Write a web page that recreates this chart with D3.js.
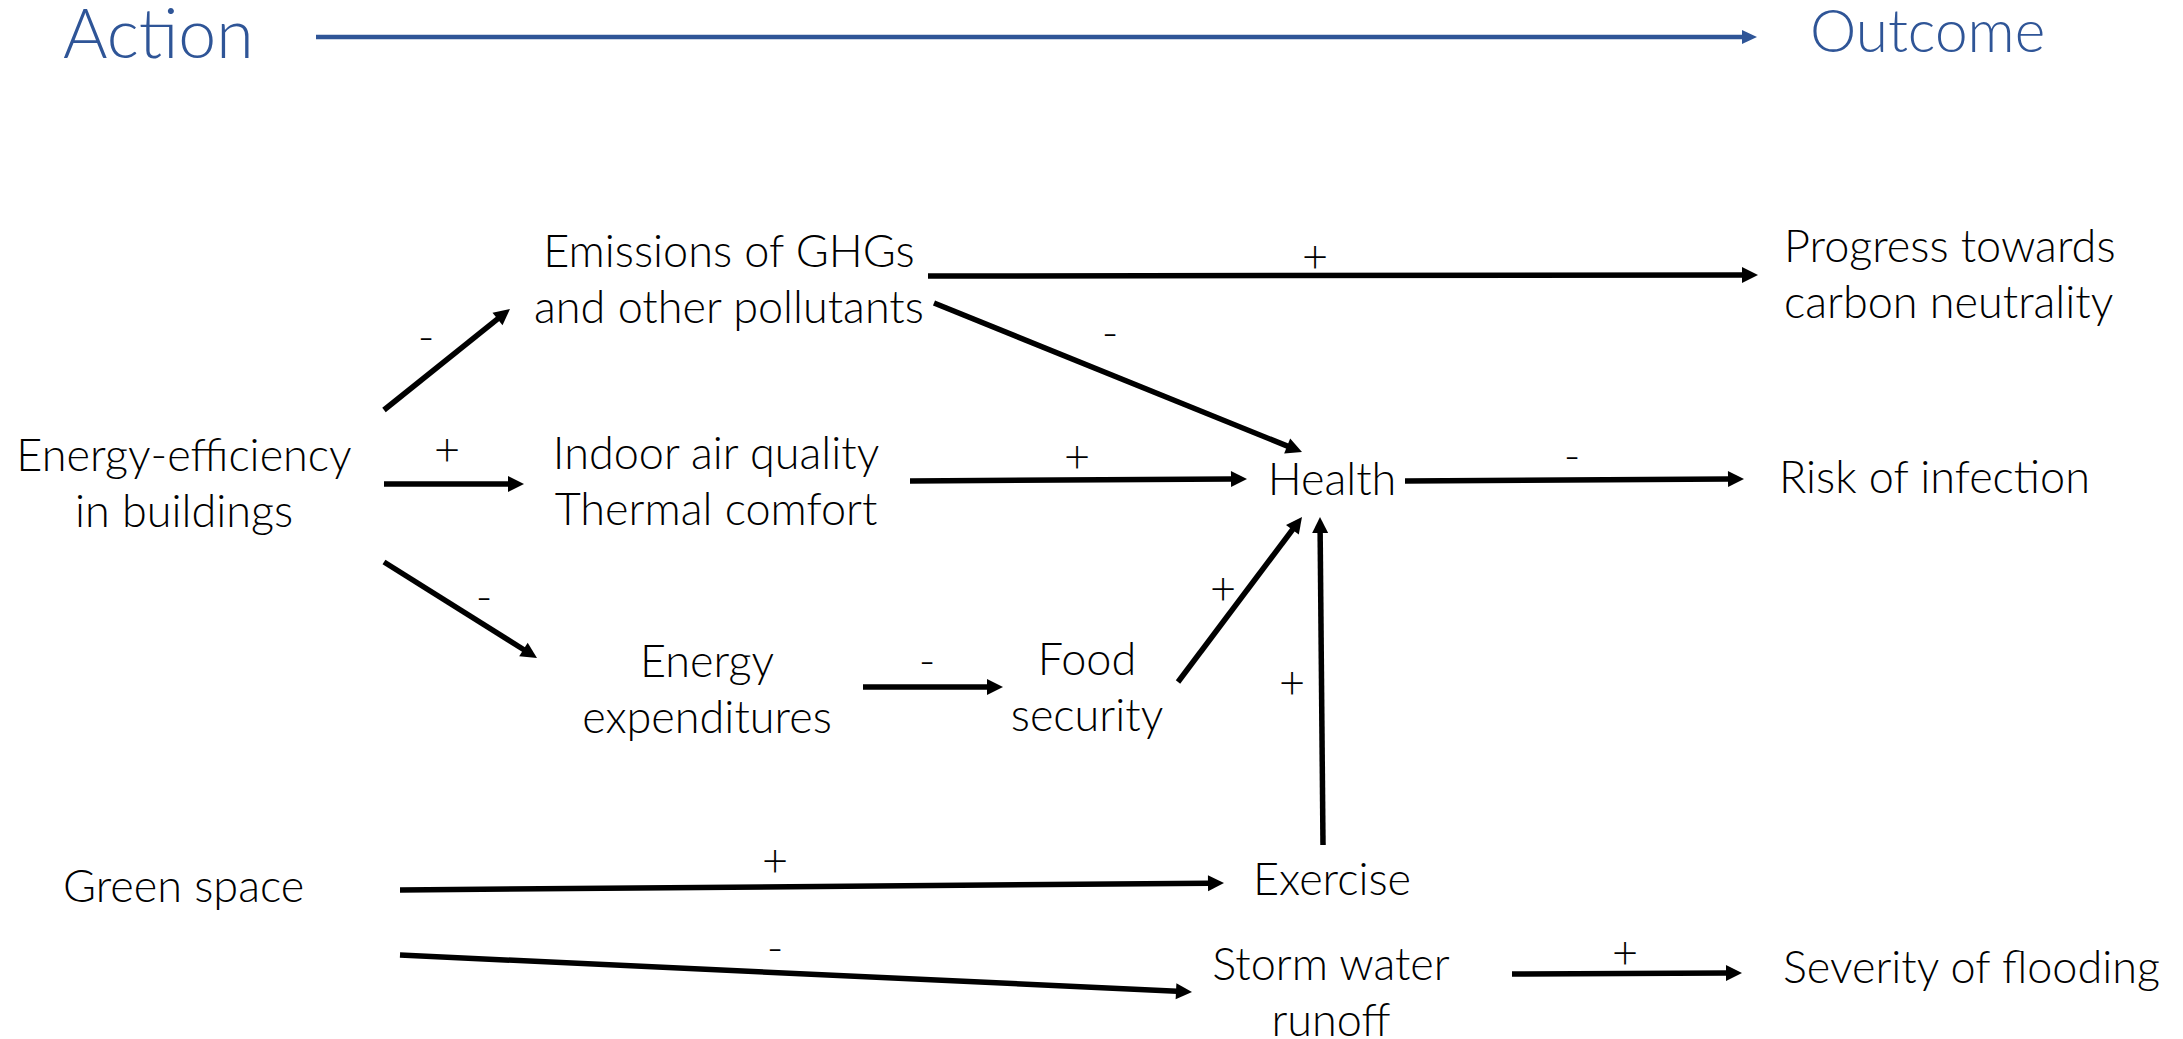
<!DOCTYPE html>
<html lang="en">
<head>
  <meta charset="UTF-8" />
  <title>Action to Outcome</title>
  <style>
    body { margin: 0; background: #fff; }
    svg { display: block; }
    text { font-family: Lato, "Open Sans", sans-serif; font-weight: 300; fill: #000; }
  </style>
</head>
<body>
  <div id="chart"></div>
  <script src="https://d3js.org/d3.v7.min.js"></script>
  <script>
    const width = 2183, height = 1039;

    // boxes of the diagram, one entry per node
    const nodeLabels = [
      ["Energy-efficiency", "in buildings"],
      ["Emissions of GHGs", "and other pollutants"],
      ["Indoor air quality", "Thermal comfort"],
      ["Energy", "expenditures"],
      ["Food", "security"],
      ["Health"],
      ["Progress towards", "carbon neutrality"],
      ["Risk of infection"],
      ["Exercise"],
      ["Storm water", "runoff"],
      ["Severity of flooding"],
      ["Green space"]
    ];
    const nodeAnchor = ["middle", "middle", "middle", "middle", "middle", "middle",
                        "start", "start", "middle", "middle", "start", "start"];
    // first baseline of each label, in diagram units
    const nodeX = [184, 729, 716, 707, 1087, 1332, 1784, 1779, 1332, 1331, 1783, 63];
    const nodeY = [471, 267, 469, 677, 675, 495, 262, 493, 895, 980, 983, 902];

    // causal links: start point, arrow tip, sign and where the sign sits
    const edgeStart = [[384, 410], [384, 484], [384, 562], [928, 276], [934, 303], [910, 481],
                       [1405, 481], [863, 687], [1178, 682], [1323, 845], [400, 890], [400, 955], [1512, 974]];
    const edgeEnd = [[510, 309], [524, 484], [537, 658], [1758, 275], [1302, 452], [1247, 479],
                     [1744, 479], [1003, 687], [1302, 517], [1320, 517], [1224, 883], [1192, 992], [1742, 973]];
    const edgeSign = ["-", "+", "-", "+", "-", "+", "-", "-", "+", "+", "+", "-", "+"];
    const signX = [426, 447, 484, 1315, 1110, 1077, 1572, 927, 1223, 1292, 775, 775, 1625];
    const signY = [338, 450, 598, 257, 334, 457, 457, 662, 589, 683, 861, 949, 953];

    const headings = ["Action", "Outcome"];

    const x = d3.scaleLinear().domain([0, 2183]).range([0, width]);
    const y = d3.scaleLinear().domain([0, 1039]).range([0, height]);

    const svg = d3.select("#chart").append("svg")
      .attr("width", width)
      .attr("height", height);

    svg.append("rect").attr("width", width).attr("height", height).attr("fill", "#fff");

    function arrow(g, p0, p1, color, sw, headLen, headW) {
      const x0 = x(p0[0]), y0 = y(p0[1]), x1 = x(p1[0]), y1 = y(p1[1]);
      const len = Math.hypot(x1 - x0, y1 - y0);
      const ux = (x1 - x0) / len, uy = (y1 - y0) / len;
      const bx = x1 - ux * headLen, by = y1 - uy * headLen;
      g.append("line")
        .attr("x1", x0).attr("y1", y0)
        .attr("x2", bx + ux).attr("y2", by + uy)
        .attr("stroke", color).attr("stroke-width", sw);
      g.append("path")
        .attr("d", d3.line()([
          [x1, y1],
          [bx - uy * headW / 2, by + ux * headW / 2],
          [bx + uy * headW / 2, by - ux * headW / 2]
        ]) + "Z")
        .attr("fill", color);
    }

    // header: Action -> Outcome
    const blue = "#2F5597";
    svg.append("text")
      .attr("x", x(63)).attr("y", y(58))
      .attr("font-size", 68)
      .style("fill", blue)
      .text(headings[0]);
    svg.append("text")
      .attr("x", x(1810)).attr("y", y(52))
      .attr("font-size", 58.5)
      .style("fill", blue)
      .text(headings[1]);
    arrow(svg.append("g"), [316, 37], [1757, 37], blue, 4.5, 15, 14);

    // links
    const links = svg.append("g");
    edgeStart.forEach((p, i) => arrow(links, p, edgeEnd[i], "#000", 5.5, 16, 16));

    links.selectAll("text.sign")
      .data(edgeSign)
      .enter()
      .append("text")
      .attr("class", "sign")
      .attr("x", (d, i) => x(signX[i]))
      .attr("y", (d, i) => y(signY[i]))
      .attr("dy", "0.33em")
      .attr("text-anchor", "middle")
      .attr("font-size", 45)
      .text(d => d);

    // node labels
    const labels = svg.append("g")
      .selectAll("text")
      .data(nodeLabels)
      .enter()
      .append("text")
      .attr("font-size", 45)
      .attr("text-anchor", (d, i) => nodeAnchor[i])
      .attr("y", (d, i) => y(nodeY[i]));

    labels.selectAll("tspan")
      .data((d, i) => d.map(t => ({ t, i })))
      .enter()
      .append("tspan")
      .attr("x", d => x(nodeX[d.i]))
      .attr("dy", (d, j) => j === 0 ? 0 : 56)
      .text(d => d.t);
  </script>
</body>
</html>
